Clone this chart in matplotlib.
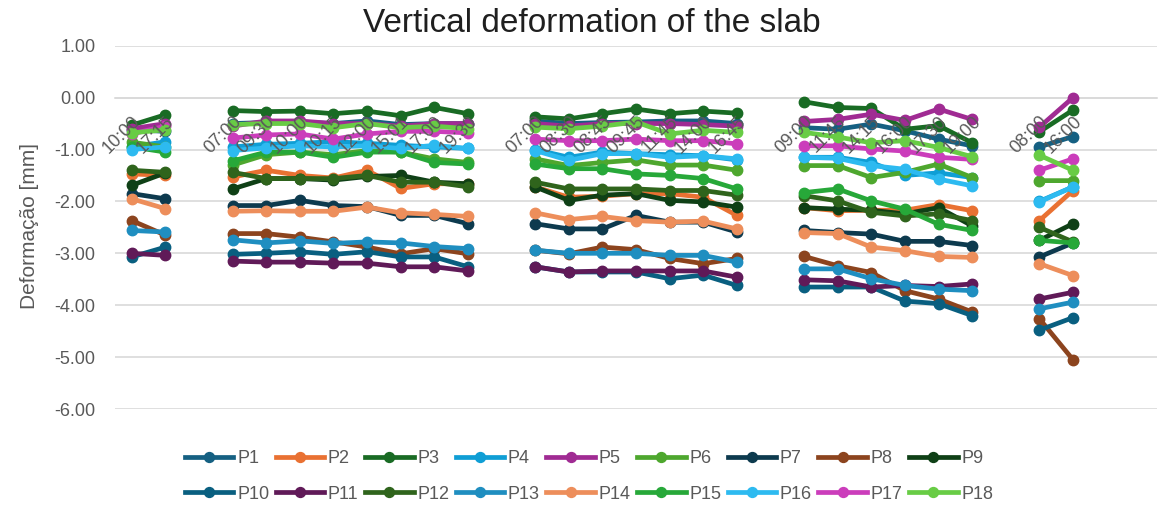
import numpy as np
import matplotlib
matplotlib.use('Agg')
import matplotlib.pyplot as plt
from matplotlib.ticker import FormatStrFormatter

plt.rcParams['font.family'] = ['Liberation Sans', 'DejaVu Sans']
plt.rcParams['axes.unicode_minus'] = False

# time labels of the readings, '' = gap between measuring days
times = ['10:00', '17:15', '',
         '07:00', '09:30', '10:00', '10:15', '12:00', '15:01', '17:00', '19:30', '',
         '07:00', '08:30', '08:45', '09:45', '11:45', '14:00', '16:45', '',
         '09:00', '11:45', '14:15', '16:00', '17:30', '19:00', '',
         '08:00', '16:00']

# readings per point (gaps are added below where times == '')
P1 = [-0.62, -0.65, -0.50, -0.48, -0.47, -0.50, -0.45, -0.52, -0.50, -0.50,
      -0.45, -0.50, -0.48, -0.47, -0.45, -0.45, -0.50, -0.58, -0.61, -0.51, -0.64, -0.80, -0.93, -0.95, -0.75]
P2 = [-1.47, -1.50, -1.53, -1.40, -1.50, -1.55, -1.40, -1.75, -1.66, -1.66,
      -1.72, -1.92, -1.90, -1.85, -1.85, -1.92, -2.27, -2.12, -2.18, -2.17, -2.17, -2.06, -2.18, -2.37, -1.79]
P3 = [-0.53, -0.33, -0.25, -0.27, -0.26, -0.31, -0.26, -0.35, -0.19, -0.31,
      -0.37, -0.41, -0.31, -0.22, -0.31, -0.26, -0.30, -0.08, -0.19, -0.21, -0.61, -0.54, -0.87, -0.66, -0.24]
P4 = [-0.95, -0.85, -0.95, -0.90, -0.88, -0.85, -0.88, -0.92, -0.95, -0.98,
      -1.00, -1.15, -1.05, -1.08, -1.10, -1.12, -1.20, -1.15, -1.15, -1.25, -1.50, -1.45, -1.54, -2.00, -1.72]
P5 = [-0.60, -0.50, -0.55, -0.45, -0.45, -0.50, -0.50, -0.55, -0.50, -0.50,
      -0.50, -0.55, -0.50, -0.50, -0.50, -0.52, -0.55, -0.46, -0.42, -0.32, -0.44, -0.22, -0.42, -0.57, 0.00]
P6 = [-0.86, -0.95, -1.30, -1.10, -1.05, -1.10, -1.02, -1.05, -1.18, -1.25,
      -1.18, -1.31, -1.25, -1.20, -1.30, -1.30, -1.40, -1.31, -1.31, -1.54, -1.44, -1.28, -1.54, -1.60, -1.60]
P7 = [-1.85, -1.95, -2.08, -2.08, -1.98, -2.08, -2.10, -2.27, -2.27, -2.43,
      -2.43, -2.53, -2.53, -2.27, -2.40, -2.40, -2.59, -2.56, -2.60, -2.63, -2.77, -2.77, -2.85, -3.07, -2.80]
P8 = [-2.37, -2.65, -2.62, -2.62, -2.69, -2.78, -2.88, -3.01, -2.91, -3.01,
      -2.94, -3.01, -2.88, -2.93, -3.10, -3.20, -3.10, -3.06, -3.24, -3.37, -3.72, -3.88, -4.13, -4.26, -5.05]
P9 = [-1.69, -1.45, -1.76, -1.56, -1.56, -1.59, -1.52, -1.50, -1.63, -1.66,
      -1.72, -1.98, -1.88, -1.85, -1.98, -2.01, -2.11, -2.12, -2.15, -2.17, -2.24, -2.12, -2.47, -2.75, -2.43]
P10 = [-3.07, -2.88, -3.02, -3.00, -2.97, -3.02, -2.97, -3.07, -3.07, -3.26,
       -3.26, -3.36, -3.36, -3.36, -3.49, -3.42, -3.62, -3.65, -3.65, -3.65, -3.92, -3.97, -4.20, -4.48, -4.24]
P11 = [-3.00, -3.04, -3.15, -3.17, -3.17, -3.19, -3.19, -3.26, -3.26, -3.34,
       -3.26, -3.36, -3.34, -3.34, -3.34, -3.34, -3.46, -3.51, -3.53, -3.65, -3.62, -3.64, -3.59, -3.88, -3.75]
P12 = [-1.40, -1.44, -1.44, -1.56, -1.56, -1.56, -1.50, -1.63, -1.63, -1.72,
       -1.63, -1.76, -1.76, -1.76, -1.79, -1.79, -1.88, -1.89, -1.99, -2.21, -2.28, -2.24, -2.37, -2.50, -2.78]
P13 = [-2.56, -2.59, -2.74, -2.80, -2.76, -2.81, -2.78, -2.80, -2.87, -2.91,
       -2.94, -3.00, -3.00, -3.00, -3.04, -3.04, -3.17, -3.30, -3.30, -3.49, -3.62, -3.69, -3.72, -4.07, -3.94]
P14 = [-1.95, -2.14, -2.19, -2.18, -2.19, -2.19, -2.11, -2.22, -2.25, -2.29,
       -2.22, -2.35, -2.29, -2.37, -2.40, -2.38, -2.53, -2.60, -2.62, -2.88, -2.95, -3.06, -3.08, -3.20, -3.43]
P15 = [-0.95, -1.05, -1.22, -1.05, -1.05, -1.15, -1.05, -1.05, -1.25, -1.28,
       -1.28, -1.37, -1.37, -1.47, -1.50, -1.56, -1.76, -1.83, -1.76, -1.99, -2.15, -2.44, -2.56, -2.75, -2.80]
P16 = [-1.00, -0.95, -1.02, -0.97, -0.93, -0.95, -0.93, -0.98, -0.92, -0.98,
       -1.02, -1.21, -1.08, -1.08, -1.15, -1.12, -1.18, -1.15, -1.17, -1.31, -1.38, -1.57, -1.70, -2.01, -1.72]
P17 = [-0.70, -0.55, -0.78, -0.72, -0.70, -0.80, -0.70, -0.65, -0.65, -0.68,
       -0.80, -0.83, -0.83, -0.80, -0.83, -0.83, -0.89, -0.93, -0.93, -0.99, -1.03, -1.15, -1.19, -1.40, -1.18]
P18 = [-0.68, -0.62, -0.52, -0.50, -0.50, -0.58, -0.50, -0.58, -0.55, -0.60,
       -0.57, -0.60, -0.55, -0.47, -0.70, -0.63, -0.67, -0.67, -0.76, -0.87, -0.83, -0.96, -1.14, -1.11, -1.40]

series = [P1, P2, P3, P4, P5, P6, P7, P8, P9, P10, P11, P12, P13, P14, P15, P16, P17, P18]
names = ['P%d' % (i + 1) for i in range(len(series))]

colors = ['#156082', '#E97132', '#196B24', '#0F9ED5', '#A02B93', '#4EA72E',
          '#0D3A4E', '#8C441E', '#0F4016', '#095F80', '#601A58', '#2F641C',
          '#1F8EC0', '#ED8E5B', '#27A839', '#2DBAF0', '#CB3DBB', '#68CC45']

x = np.arange(len(times))
filled = [i for i, t in enumerate(times) if t != '']


def with_gaps(vals):
    y = np.full(len(times), np.nan)
    y[filled] = vals
    return y


fig = plt.figure(figsize=(11.69, 5.08), dpi=100)
ax = fig.add_axes([115 / 1169, 1 - 409 / 508, 1042 / 1169, 363.3 / 508])

lines = []
for i, (name, vals) in enumerate(zip(names, series)):
    ln, = ax.plot(x, with_gaps(vals), color=colors[i], lw=3.4, marker='o', ms=7.5,
                  label=name, zorder=3 + i * 0.01)
    lines.append(ln)

ax.set_xlim(-0.5, 30.5)
ax.set_ylim(-6, 1)
ax.set_yticks(np.arange(-6, 1.5, 1))
ax.yaxis.set_major_formatter(FormatStrFormatter('%.2f'))
ax.grid(axis='y', color='#D9D9D9', lw=1.2, zorder=0)
ax.set_axisbelow(True)
ax.xaxis.set_zorder(20)   # time labels sit on top of the lines, like in Excel

for s in ['top', 'right', 'left']:
    ax.spines[s].set_visible(False)
ax.spines['bottom'].set_position(('data', 0))
ax.spines['bottom'].set_color('#D9D9D9')
ax.spines['bottom'].set_linewidth(1.2)
ax.spines['bottom'].set_zorder(1)

ax.set_xticks(x)
ax.set_xticklabels(times)
ax.tick_params(axis='x', length=0, pad=11, labelsize=13, labelcolor='#595959')
ax.tick_params(axis='y', length=0, pad=14, labelsize=13, labelcolor='#595959')
for lab in ax.get_xticklabels():
    lab.set_rotation(45)
    lab.set_ha('right')
    lab.set_rotation_mode('anchor')

fig.text(30 / 1169, 1 - 226 / 508, 'Deformação [mm]', rotation=90, ha='center', va='center',
         fontsize=15, color='#595959')
fig.text(592 / 1169, 1 - 23 / 508, 'Vertical deformation of the slab', ha='center', va='center',
         fontsize=24, color='#1F1F1F')

# legend is filled column by column, so interleave the two rows
order = []
for c in range(9):
    order += [c, c + 9]
leg = fig.legend([lines[k] for k in order], [names[k] for k in order],
                 loc='center', bbox_to_anchor=(589 / 1169, 1 - 476.5 / 508), ncol=9,
                 frameon=False, fontsize=13, handlelength=2.7, handletextpad=0.2,
                 columnspacing=0.35, labelspacing=1.0, markerscale=0.95)
for t in leg.get_texts():
    t.set_color('#595959')

fig.savefig('out.png', dpi=100)
